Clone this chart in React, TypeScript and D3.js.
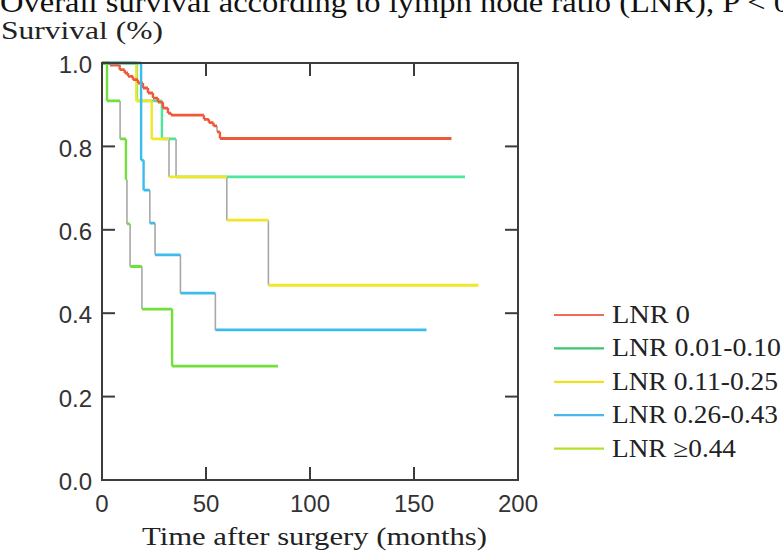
import React from "react";
import * as d3 from "d3";

// ---------- data ----------
const seriesNames = ["LNR 0", "LNR 0.01-0.10", "LNR 0.11-0.25", "LNR 0.26-0.43", "LNR \u22650.44"];

const lnr0Times = [3.8, 8.5, 10.9, 12.5, 14.9, 17.3, 19.7, 22.1, 24.5, 26.9, 29.3, 31.7, 33.2, 49.0, 51.4, 53.6, 55.3, 56.7];
const lnr0Surv = [0.995, 0.984, 0.976, 0.968, 0.96, 0.952, 0.94, 0.928, 0.916, 0.906, 0.892, 0.88, 0.875, 0.865, 0.857, 0.849, 0.835, 0.819];
const lnr0End = 168;

const lnr1Times = [16.8, 28.8, 35.6];
const lnr1Surv = [0.909, 0.818, 0.727];
const lnr1End = 174.5;

const lnr2Times = [16.5, 23.9, 32.2, 60, 80];
const lnr2Surv = [0.909, 0.818, 0.727, 0.623, 0.467];
const lnr2End = 181;

const lnr3Times = [18.8, 20, 23, 25.5, 37.7, 54.5];
const lnr3Surv = [0.767, 0.695, 0.616, 0.54, 0.448, 0.36];
const lnr3End = 156;

const lnr4Times = [2.4, 8.7, 11.5, 12, 13.5, 19.2, 33.7];
const lnr4Surv = [0.909, 0.818, 0.72, 0.614, 0.512, 0.41, 0.273];
const lnr4End = 84.6;

const xTicks = [0, 50, 100, 150, 200];
const yTicks = [0, 0.2, 0.4, 0.6, 0.8, 1.0];

const titleText = "Overall survival according to lymph node ratio (LNR), P < 0";
const yTitle = "Survival (%)";
const xTitle = "Time after surgery (months)";

// ---------- style ----------
const lineColors = ["#f0583a", "#4ee69a", "#f2e62a", "#3cbcec", "#72e03a"];
const legendColors = ["#f26a5a", "#3cc46a", "#f0e020", "#48b8ec", "#b4e02c"];
const grayDrops = [[16], [2], [2, 3, 4], [2, 3, 4, 5], [1, 3, 4, 5]];
const drawOrder = [1, 2, 0, 3, 4];
const legendTextLen = [78, 169, 166, 166, 124];

const W = 783;
const H = 555;
const M = { left: 102, right: 518, top: 63, bottom: 480 };

export default function App() {
  const x = d3.scaleLinear().domain([0, 200]).range([M.left, M.right]);
  const y = d3.scaleLinear().domain([0, 1]).range([M.bottom, M.top]);

  const series = [
    { times: lnr0Times, surv: lnr0Surv, end: lnr0End },
    { times: lnr1Times, surv: lnr1Surv, end: lnr1End },
    { times: lnr2Times, surv: lnr2Surv, end: lnr2End },
    { times: lnr3Times, surv: lnr3Surv, end: lnr3End },
    { times: lnr4Times, surv: lnr4Surv, end: lnr4End },
  ];

  const tickLen = 13;
  const axisColor = "#3c3c3c";
  const serif = "'Liberation Serif', 'Times New Roman', serif";
  const sans = "'Liberation Sans', Arial, sans-serif";

  const curves = drawOrder.map((si) => {
    const s = series[si];
    const hor: string[] = [];
    const vertColored: string[] = [];
    const vertGray: string[] = [];
    let prevT = 0;
    let prevS = 1;
    s.times.forEach((t, i) => {
      hor.push(`M${x(prevT)},${y(prevS)}H${x(t)}`);
      const seg = `M${x(t)},${y(prevS)}V${y(s.surv[i])}`;
      if (grayDrops[si].includes(i)) vertGray.push(seg);
      else vertColored.push(seg);
      prevT = t;
      prevS = s.surv[i];
    });
    hor.push(`M${x(prevT)},${y(prevS)}H${x(s.end)}`);
    return (
      <g key={si}>
        <path d={vertGray.join("")} stroke="#a8a8a8" strokeWidth={1.6} fill="none" />
        <path d={vertColored.join("")} stroke={lineColors[si]} strokeWidth={2.4} fill="none" />
        <path d={hor.join("")} stroke={lineColors[si]} strokeWidth={2.8} fill="none" />
      </g>
    );
  });

  const innerX = xTicks.filter((t) => t > 0 && t < 200);
  const innerY = yTicks.filter((t) => t > 0 && t < 1);

  const legendX0 = 554;
  const legendX1 = 604;
  const legendTextX = 612;
  const legendY0 = 315;
  const legendStep = 33.4;

  return (
    <div style={{ position: "absolute", left: 0, top: 0 }}>
      <svg width={W} height={H} viewBox={`0 0 ${W} ${H}`} style={{ display: "block", background: "#fff" }}>
        <rect x={0} y={0} width={W} height={H} fill="#fff" />
        <text x={0} y={12} fontFamily={serif} fontSize={30} fill="#111" textLength={790} lengthAdjust="spacingAndGlyphs">
          {titleText}
        </text>
        <text x={1} y={39} fontFamily={serif} fontSize={26} fill="#222" textLength={162} lengthAdjust="spacingAndGlyphs">
          {yTitle}
        </text>

        {curves}

        {/* frame */}
        <rect x={M.left} y={M.top} width={M.right - M.left} height={M.bottom - M.top} fill="none" stroke={axisColor} strokeWidth={2} />
        {innerX.map((t) => (
          <g key={"xt" + t}>
            <line x1={x(t)} x2={x(t)} y1={M.bottom} y2={M.bottom - tickLen} stroke={axisColor} strokeWidth={2} />
            <line x1={x(t)} x2={x(t)} y1={M.top} y2={M.top + tickLen} stroke={axisColor} strokeWidth={2} />
          </g>
        ))}
        {innerY.map((t) => (
          <g key={"yt" + t}>
            <line x1={M.left} x2={M.left + tickLen} y1={y(t)} y2={y(t)} stroke={axisColor} strokeWidth={2} />
            <line x1={M.right} x2={M.right - tickLen} y1={y(t)} y2={y(t)} stroke={axisColor} strokeWidth={2} />
          </g>
        ))}

        {xTicks.map((t) => (
          <text key={"xl" + t} x={x(t)} y={512} textAnchor="middle" fontFamily={sans} fontSize={24} fill="#333">
            {t}
          </text>
        ))}
        {yTicks.map((t) => (
          <text key={"yl" + t} x={92} y={y(t) + 1.5} dy="0.36em" textAnchor="end" fontFamily={sans} fontSize={24} fill="#333">
            {d3.format(".1f")(t)}
          </text>
        ))}

        <text x={142} y={545} fontFamily={serif} fontSize={26} fill="#222" textLength={345} lengthAdjust="spacingAndGlyphs">
          {xTitle}
        </text>

        {seriesNames.map((name, i) => {
          const ly = legendY0 + i * legendStep;
          return (
            <g key={"lg" + i}>
              <line x1={legendX0} x2={legendX1} y1={ly} y2={ly} stroke={legendColors[i]} strokeWidth={2.2} />
              <text x={legendTextX} y={ly + 8} fontFamily={serif} fontSize={25} fill="#222" textLength={legendTextLen[i]} lengthAdjust="spacingAndGlyphs">
                {name}
              </text>
            </g>
          );
        })}
      </svg>
    </div>
  );
}
